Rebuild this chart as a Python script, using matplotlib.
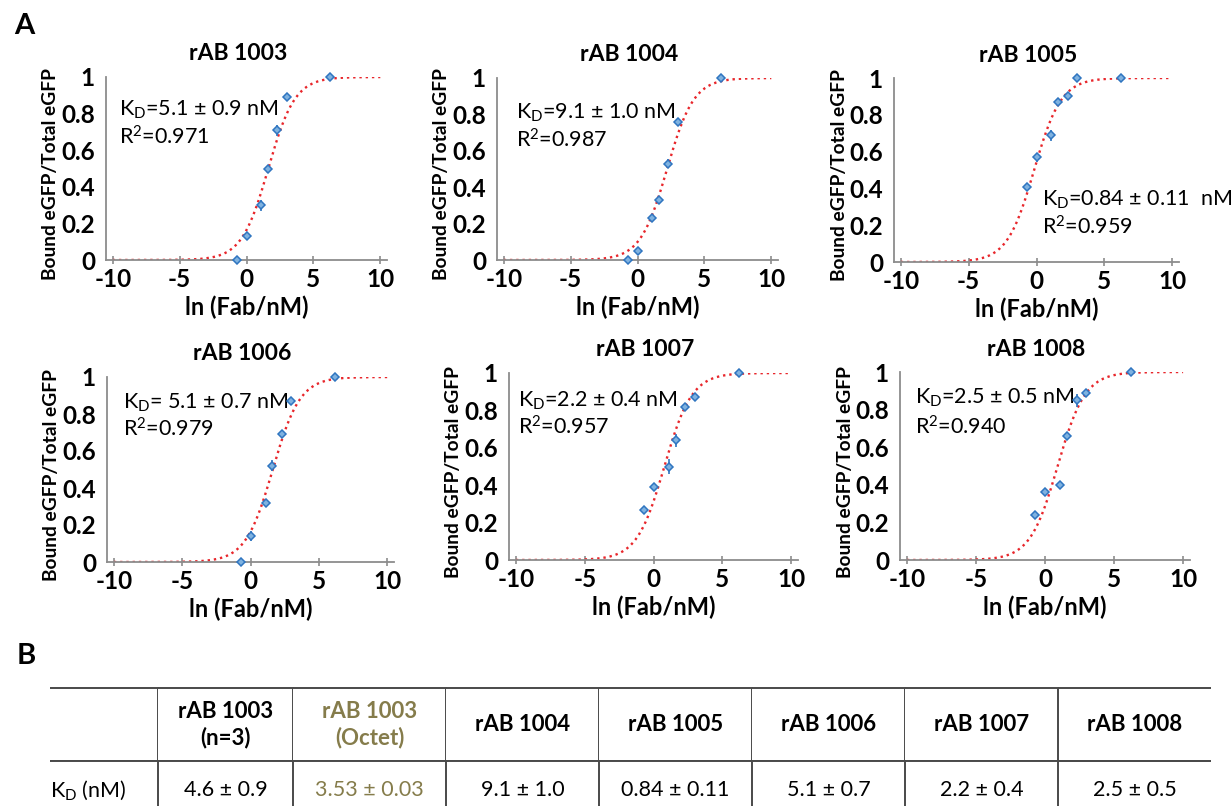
import numpy as np
import matplotlib
matplotlib.use("Agg")
import matplotlib.pyplot as plt

plt.rcParams['font.family'] = ['Lato', 'DejaVu Sans']
plt.rcParams['mathtext.default'] = 'regular'
plt.rcParams['axes.unicode_minus'] = False

# ---- data ----
fab_nM = [0.5, 1, 3, 5, 10, 20, 500]
names = ['rAB 1003', 'rAB 1004', 'rAB 1005', 'rAB 1006', 'rAB 1007', 'rAB 1008']
kd = [5.1, 9.1, 0.84, 5.1, 2.2, 2.5]
kd_err = [0.9, 1.0, 0.11, 0.7, 0.4, 0.5]
r2 = [0.971, 0.987, 0.959, 0.979, 0.957, 0.940]
kd_text = ['5.1 ± 0.9 nM', '9.1 ± 1.0 nM', '0.84 ± 0.11  nM',
           ' 5.1 ± 0.7 nM', '2.2 ± 0.4 nM', '2.5 ± 0.5 nM']
bound = [
    [0.00, 0.13, 0.30, 0.50, 0.71, 0.89, 1.00],
    [0.00, 0.05, 0.23, 0.33, 0.53, 0.76, 1.00],
    [0.41, 0.57, 0.69, 0.87, 0.90, 1.00, 1.00],
    [0.00, 0.14, 0.32, 0.52, 0.69, 0.87, 1.00],
    [0.27, 0.39, 0.50, 0.64, 0.82, 0.87, 1.00],
    [0.24, 0.36, 0.40, 0.66, 0.85, 0.89, 1.00],
]
bound_err = [
    [0.01, 0.015, 0.03, 0.02, 0.03, 0.02, 0.01],
    [0.01, 0.015, 0.02, 0.02, 0.025, 0.02, 0.01],
    [0.015, 0.025, 0.03, 0.02, 0.02, 0.01, 0.01],
    [0.01, 0.025, 0.015, 0.03, 0.015, 0.02, 0.01],
    [0.015, 0.02, 0.04, 0.035, 0.015, 0.02, 0.01],
    [0.015, 0.015, 0.015, 0.02, 0.035, 0.015, 0.01],
]

# table
col_labels = ['', 'rAB 1003\n(n=3)', 'rAB 1003\n(Octet)', 'rAB 1004', 'rAB 1005',
              'rAB 1006', 'rAB 1007', 'rAB 1008']
row_values = ['K$_D$ (nM)', '4.6 ± 0.9', '3.53 ± 0.03', '9.1 ± 1.0', '0.84 ± 0.11',
              '5.1 ± 0.7', '2.2 ± 0.4', '2.5 ± 0.5']

# ---- layout (pixels) ----
W, H = 1231, 806
# left, right, top, bottom of each panel (x from -10.5 to 10.5, y 0..1)
panel_px = [
    (106, 387, 77, 260), (497, 778, 78, 260), (894, 1179, 78, 262),
    (107, 394, 377, 562), (509, 798, 373, 560), (900, 1190, 372, 560),
]
text_pos = [(-9.5, 0.82, 0.67), (-9.1, 0.81, 0.66), (0.4, 0.34, 0.19),
            (-9.3, 0.86, 0.72), (-9.85, 0.85, 0.71), (-9.4, 0.86, 0.71)]


def rect(l, r, t, b):
    return [l / W, 1 - b / H, (r - l) / W, (b - t) / H]


fig = plt.figure(figsize=(W / 100, H / 100), dpi=100)
grey = '#8c8c8c'
x_fit = np.linspace(-10, 10, 400)
ln_fab = np.log(fab_nM)

for i in range(6):
    l, r, t, b = panel_px[i]
    w_px, h_px = r - l, b - t
    ax = fig.add_axes(rect(l, r, t, b))
    c = np.exp(x_fit)
    ax.plot(x_fit, c / (c + kd[i]), ':', color='#e8262b', lw=1.7, zorder=2)
    ax.errorbar(ln_fab, bound[i], yerr=bound_err[i], fmt='D', ms=4,
                mfc='#7fb2e0', mec='#2f75c0', mew=1.1, ecolor='#2f75c0',
                elinewidth=1.2, capsize=0, clip_on=False, zorder=3)
    ax.set_xlim(-10.5, 10.5)
    ax.set_ylim(0, 1.0)
    ax.set_xticks([-10, -5, 0, 5, 10])
    ax.set_yticks([0, 0.2, 0.4, 0.6, 0.8, 1])
    ax.set_yticklabels(['0', '0.2', '0.4', '0.6', '0.8', '1'])
    for s in ['top', 'right']:
        ax.spines[s].set_visible(False)
    for s in ['left', 'bottom']:
        ax.spines[s].set_color(grey)
        ax.spines[s].set_linewidth(1.3)
    ax.tick_params(axis='x', direction='inout', length=6, color=grey, width=1.2,
                   labelsize=17.5, pad=3)
    ax.tick_params(axis='y', length=0, labelsize=17.5, pad=8)
    for lab in ax.get_xticklabels() + ax.get_yticklabels():
        lab.set_fontweight('bold')
    ax.set_xlabel('ln (Fab/nM)', fontsize=17, fontweight='bold', va='center')
    ax.xaxis.set_label_coords(0.5, -47 / h_px)
    ax.set_ylabel('Bound eGFP/Total eGFP', fontsize=13.8, fontweight='bold', va='center')
    ax.yaxis.set_label_coords(-55 / w_px, 0.47)
    ax.text(0.47, 1 + 23 / h_px, names[i], transform=ax.transAxes, fontsize=16.5,
            fontweight='bold', ha='center', va='center')
    tx, ty1, ty2 = text_pos[i]
    ax.text(tx, ty1, 'K$_D$=' + kd_text[i], fontsize=15.5, va='center', ha='left')
    ax.text(tx, ty2, 'R$^2$=%.3f' % r2[i], fontsize=15.5, va='center', ha='left')

fig.text(14 / W, 1 - 26 / H, 'A', fontsize=21, fontweight='bold', va='center')
fig.text(17 / W, 1 - 656 / H, 'B', fontsize=21, fontweight='bold', va='center')

# ---- table ----
col_edges = [50, 158, 293, 446, 599, 752, 905, 1058, 1211]
tab_top, row_split, tab_bottom = 688, 761, 819
tax = fig.add_axes(rect(col_edges[0], col_edges[-1], tab_top, tab_bottom))
tax.axis('off')
widths = np.diff(col_edges) / (col_edges[-1] - col_edges[0])
tbl = tax.table(cellText=[col_labels, row_values], colWidths=list(widths),
                cellLoc='center', bbox=[0, 0, 1, 1])
tbl.auto_set_font_size(False)
olive = '#857c4b'
ncol = len(col_labels)
for (r, cidx), cell in tbl.get_celld().items():
    cell.set_edgecolor('#4a4a4a')
    cell.set_linewidth(1.4)
    cell.set_height((row_split - tab_top) if r == 0 else (tab_bottom - row_split))
    edges = 'TB' if r == 0 else 'T'
    if cidx < ncol - 1:
        edges += 'R'
    cell.visible_edges = edges
    txt = cell.get_text()
    txt.set_linespacing(1.25)
    if r == 0:
        txt.set_fontsize(16)
        txt.set_fontweight('bold')
    else:
        txt.set_fontsize(15.5)
    if cidx == 2:
        txt.set_color(olive)
    if cidx == 0 and r == 1:
        cell.PAD = 0.0
        txt.set_horizontalalignment('left')
        cell._loc = 'left'

fig.savefig('out.png', dpi=100)
